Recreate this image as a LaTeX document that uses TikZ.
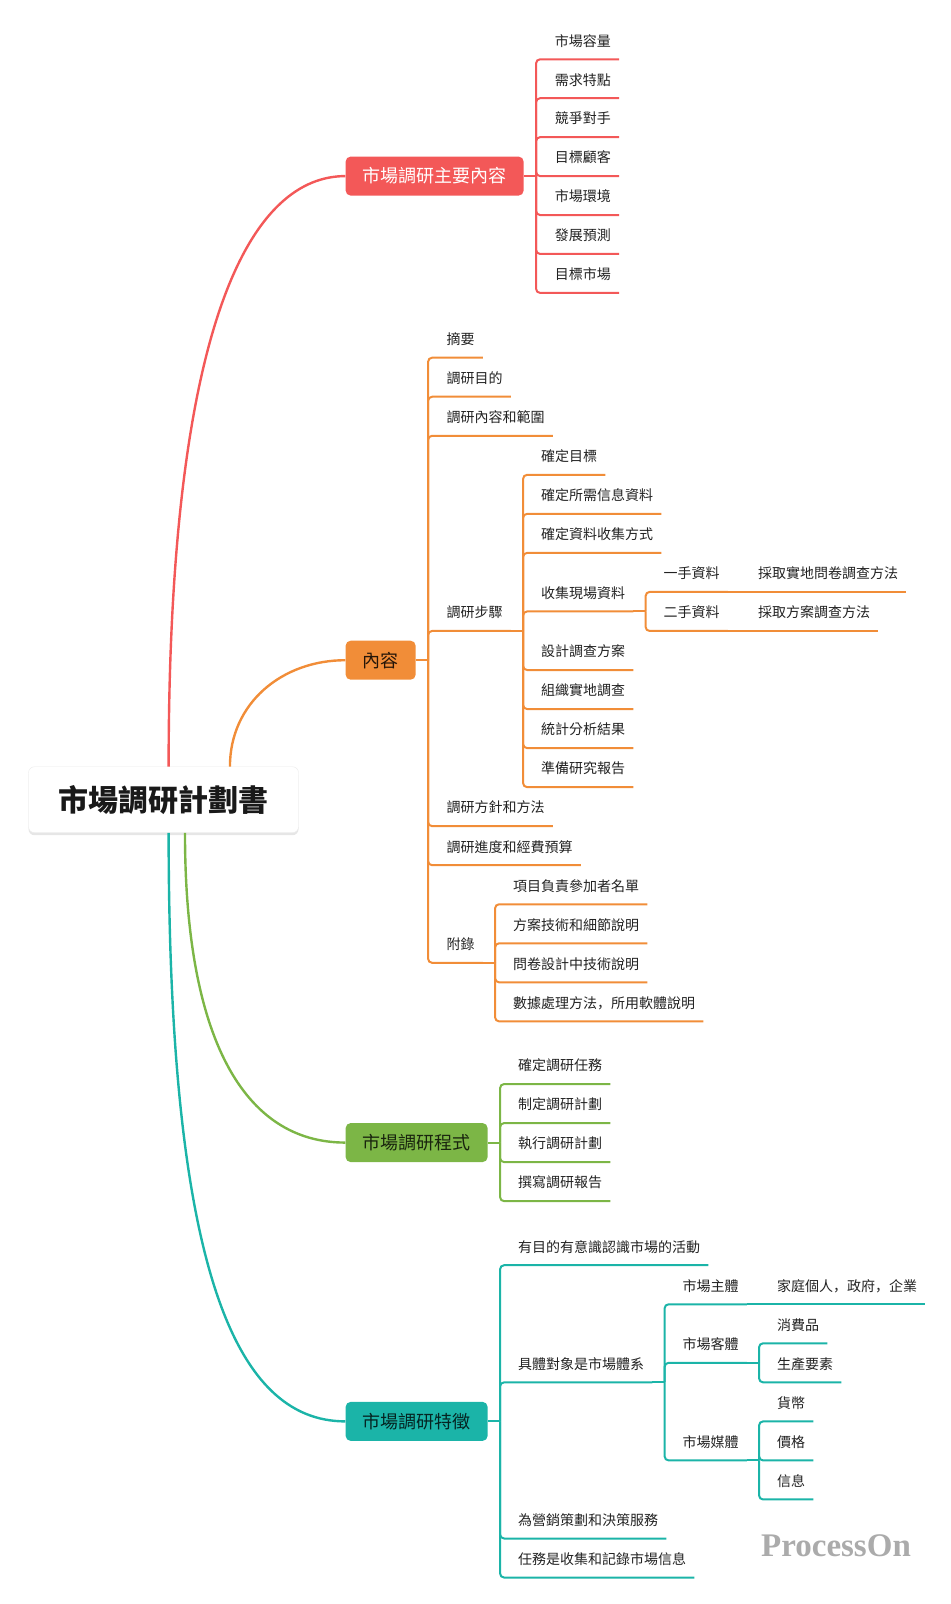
\documentclass[tikz,border=0pt]{standalone}
\usepackage{fontspec}
\newfontfamily\cjk{Noto Sans CJK TC}
\newfontfamily\cjksc{Noto Sans CJK SC}
\newfontfamily\wmfont{Liberation Serif}
\usetikzlibrary{calc,shadows}

\definecolor{cred}{RGB}{243,88,88}
\definecolor{corange}{RGB}{241,141,56}
\definecolor{cgreen}{RGB}{124,182,70}
\definecolor{cteal}{RGB}{27,180,168}
\definecolor{ctext}{RGB}{34,34,34}

\tikzset{
  topic/.style={fill=#1, rounded corners=5pt, anchor=west, minimum height=39pt,
    inner xsep=17pt, font=\cjk\fontsize{18pt}{18pt}\selectfont},
  leaf/.style={anchor=south west, inner xsep=8pt, inner ysep=10pt,
    text height=10pt, text depth=3pt, text=ctext, font=\cjk\fontsize{14pt}{14pt}\selectfont},
  link/.style={draw=#1, line width=2pt, rounded corners=4pt},
  branch/.style={draw=#1, line width=2.4pt},
}

\begin{document}
\begin{tikzpicture}[x=1.022pt, y=-1.022pt]
\useasboundingbox (0,0) rectangle (930.5,1569.5);

%%%%%%%%%%%% Root
\node[fill=white, draw=black!8, rounded corners=6pt, minimum height=66pt, inner xsep=30pt,
  drop shadow={opacity=0.2, shadow xshift=0pt, shadow yshift=-2.5pt},
  font=\cjk\bfseries\fontsize{30pt}{30pt}\selectfont, text=black!90] (root) at (160,782.5) {市場調研計劃書};

%%%%%%%%%%%% 市場調研主要內容
\node[topic=cred, text=white] (main) at (338,172.3) {市場調研主要內容};
\draw[branch=cred] ($(root.north)+(5,0)$) .. controls +(0,-448) and +(-88,0) .. (main.west);
\draw[link=cred] (main.east) -- ++(12,0) coordinate (mainj);
\foreach \lab [count=\i from 0] in {市場容量,需求特點,競爭對手,目標顧客,市場環境,發展預測,目標市場} {
  \node[leaf] (main\i) at (535, 58+38.1*\i) {\lab};
  \draw[link=cred] (mainj) |- (main\i.south east);
}

%%%%%%%%%%%% 內容
\node[topic=corange, text=corange!15!black] (cont) at (338,646) {內容};
\draw[branch=corange] ($(root.north)+(65,0)$) .. controls +(0,-62) and +(-62,0) .. (cont.west);
\draw[link=corange] (cont.east) -- ++(12,0) coordinate (contj);
\foreach \lab/\k [count=\i] in {摘要/0,調研目的/1,調研內容和範圍/2,調研步驟/7,調研方針和方法/12,調研進度和經費預算/13,附錄/15.5} {
  \node[leaf] (cont\i) at (429, 350+38.2*\k) {\lab};
  \draw[link=corange] (contj) |- (cont\i.south east);
}

% 調研步驟
\draw[link=corange] (cont4.south east) -- ++(12,0) coordinate (stepj);
\foreach \lab/\k [count=\i] in {確定目標/3,確定所需信息資料/4,確定資料收集方式/5,收集現場資料/6.5,設計調查方案/8,組織實地調查/9,統計分析結果/10,準備研究報告/11} {
  \node[leaf] (step\i) at (521.5, 350+38.2*\k) {\lab};
  \draw[link=corange] (stepj) |- (step\i.south east);
}

% 收集現場資料
\draw[link=corange] (step4.south east) -- ++(12,0) coordinate (fieldj);
\foreach \lab/\res/\k [count=\i] in {一手資料/採取實地問卷調查方法/6,二手資料/採取方案調查方法/7} {
  \node[leaf] (field\i) at (641.3, 350+38.2*\k) {\lab};
  \node[leaf] (way\i) at (733.8, 350+38.2*\k) {\res};
  \draw[link=corange] (fieldj) |- (field\i.south east);
  \draw[link=corange] (field\i.south east) -- (way\i.south east);
}

% 附錄
\draw[link=corange] (cont7.south east) -- ++(12,0) coordinate (appj);
\foreach \lab/\k [count=\i] in {項目負責參加者名單/14,方案技術和細節說明/15,問卷設計中技術說明/16,數據處理方法{\cjksc ，}所用軟體說明/17} {
  \node[leaf] (app\i) at (494, 350+38.2*\k) {\lab};
  \draw[link=corange] (appj) |- (app\i.south east);
}

%%%%%%%%%%%% 市場調研程式
\node[topic=cgreen, text=cgreen!20!black] (proc) at (338,1118) {市場調研程式};
\draw[branch=cgreen] ($(root.south)+(21,0)$) .. controls +(0,200) and +(-100,0) .. (proc.west);
\draw[link=cgreen] (proc.east) -- ++(12,0) coordinate (procj);
\foreach \lab [count=\i from 0] in {確定調研任務,制定調研計劃,執行調研計劃,撰寫調研報告} {
  \node[leaf] (proc\i) at (499, 1060.7+38.2*\i) {\lab};
  \draw[link=cgreen] (procj) |- (proc\i.south east);
}

%%%%%%%%%%%% 市場調研特徵
\node[topic=cteal, text=cteal!20!black] (feat) at (338,1390.8) {市場調研特徵};
\draw[branch=cteal] ($(root.south)+(5,0)$) .. controls +(0,420) and +(-110,0) .. (feat.west);
\draw[link=cteal] (feat.east) -- ++(12,0) coordinate (featj);
\foreach \lab/\k [count=\i] in {有目的有意識認識市場的活動/0,具體對象是市場體系/3,為營銷策劃和決策服務/7,任務是收集和記錄市場信息/8} {
  \node[leaf] (feat\i) at (499, 1238+38.2*\k) {\lab};
  \draw[link=cteal] (featj) |- (feat\i.south east);
}

% 具體對象是市場體系
\draw[link=cteal] (feat2.south east) -- ++(12,0) coordinate (sysj);
\foreach \lab/\k [count=\i] in {市場主體/1,市場客體/2.5,市場媒體/5} {
  \node[leaf] (sys\i) at (659.9, 1238+38.2*\k) {\lab};
  \draw[link=cteal] (sysj) |- (sys\i.south east);
}

\node[leaf] (owner) at (752.4, 1238+38.2) {家庭個人{\cjksc ，}政府{\cjksc ，}企業};
\draw[link=cteal] (sys1.south east) -- (owner.south east);

\draw[link=cteal] (sys2.south east) -- ++(12,0) coordinate (objj);
\foreach \lab/\k [count=\i] in {消費品/2,生產要素/3} {
  \node[leaf] (obj\i) at (752.4, 1238+38.2*\k) {\lab};
  \draw[link=cteal] (objj) |- (obj\i.south east);
}

\draw[link=cteal] (sys3.south east) -- ++(12,0) coordinate (medj);
\foreach \lab/\k [count=\i] in {貨幣/4,價格/5,信息/6} {
  \node[leaf] (med\i) at (752.4, 1238+38.2*\k) {\lab};
  \draw[link=cteal] (medj) |- (med\i.south east);
}

%%%%%%%%%%%% Watermark
\node[font=\wmfont\bfseries\fontsize{33pt}{33pt}\selectfont, text=black!33] (watermark) at (818,1512) {ProcessOn};
\end{tikzpicture}
\end{document}
